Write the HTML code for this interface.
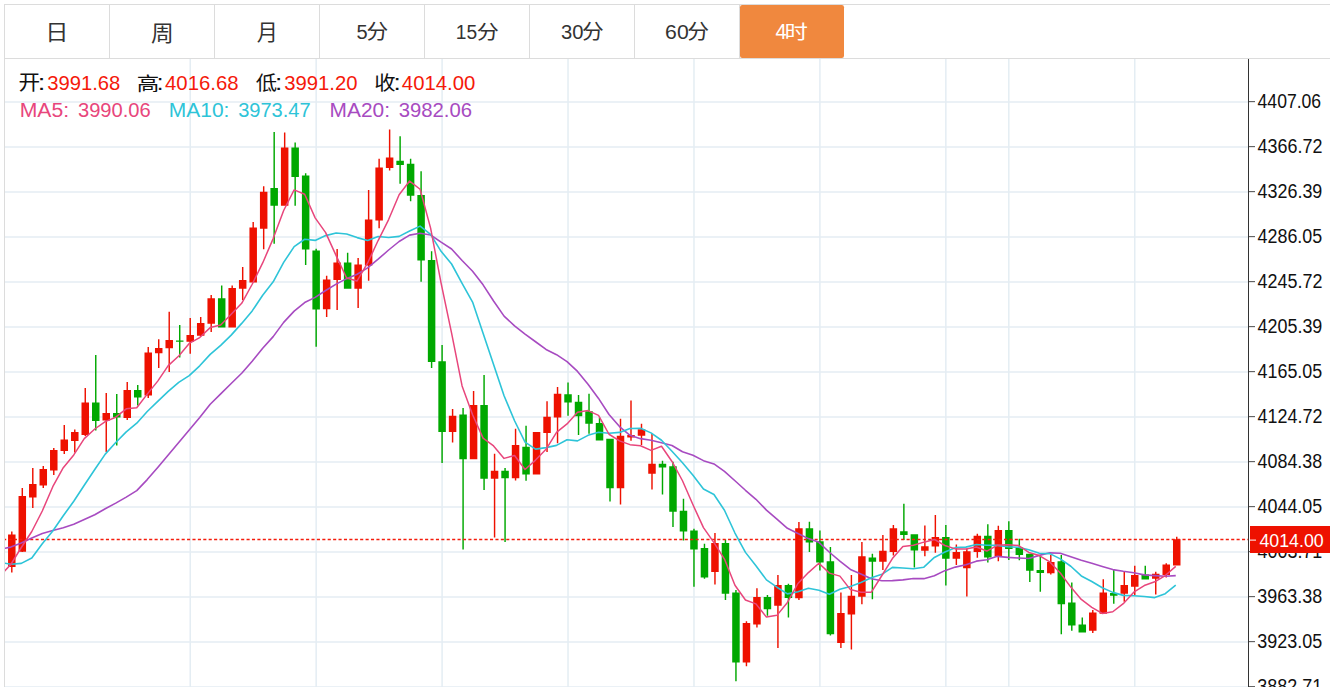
<!DOCTYPE html>
<html><head><meta charset="utf-8"><title>K</title>
<style>html,body{margin:0;padding:0;background:#fff;overflow:hidden}svg{display:block}text{font-family:"Liberation Sans","Noto Sans CJK SC",sans-serif;white-space:pre}</style></head>
<body>
<svg width="1330" height="687" viewBox="0 0 1330 687">
<rect width="1330" height="687" fill="#fff"/>
<g stroke="#e4edf3" stroke-width="1.5" fill="none">
<path d="M190.22 59V687"/>
<path d="M316.15 59V687"/>
<path d="M442.09 59V687"/>
<path d="M568.03 59V687"/>
<path d="M693.97 59V687"/>
<path d="M819.91 59V687"/>
<path d="M945.85 59V687"/>
<path d="M1008.82 59V687"/>
<path d="M1134.76 59V687"/>
<path d="M5 101.95H1248"/>
<path d="M5 146.95H1248"/>
<path d="M5 191.95H1248"/>
<path d="M5 236.95H1248"/>
<path d="M5 281.95H1248"/>
<path d="M5 326.95H1248"/>
<path d="M5 371.95H1248"/>
<path d="M5 416.95H1248"/>
<path d="M5 461.95H1248"/>
<path d="M5 506.95H1248"/>
<path d="M5 551.95H1248"/>
<path d="M5 596.95H1248"/>
<path d="M5 641.95H1248"/>
<path d="M5 686.95H1248"/>
</g>
<g clip-path="url(#cp)">
<path fill="#ee1100" d="M8.05 534.5V567H15.55V534.5ZM11.08 531.5V572.5H12.52V531.5ZM18.55 496V551.75H26.05V496ZM21.58 488V552H23.02V488ZM29.04 484V497.5H36.54V484ZM32.07 468V508H33.51V468ZM39.53 469V485.5H47.03V469ZM42.56 466V488H44V466ZM50.03 450V470.5H57.53V450ZM53.06 448V475H54.5V448ZM60.52 439.5V451H68.02V439.5ZM63.55 425V454H64.99V425ZM71.02 432V441H78.52V432ZM74.05 429.5V452.5H75.49V429.5ZM81.51 402.5V435H89.01V402.5ZM84.54 388V436H85.98V388ZM102.5 413V420.5H110V413ZM105.53 393V452H106.97V393ZM123.49 390V418H131V390ZM126.52 382V420H127.96V382ZM144.49 352.5V395.5H151.99V352.5ZM147.52 347V398H148.96V347ZM154.98 348V353.25H162.48V348ZM158.01 339.25V368H159.45V339.25ZM165.47 340V348.25H172.97V340ZM168.5 311.75V372H169.94V311.75ZM186.47 335V341.75H193.97V335ZM189.5 318V353.75H190.94V318ZM196.96 323V335.75H204.46V323ZM199.99 317V336.25H201.43V317ZM207.45 298.25V323.75H214.95V298.25ZM210.48 295V332H211.92V295ZM228.44 288V327.5H235.94V288ZM231.47 285.5V327.5H232.91V285.5ZM238.94 280V288.75H246.44V280ZM241.97 267V300H243.41V267ZM249.44 227.5V282.5H256.94V227.5ZM252.47 222V282.5H253.91V222ZM259.93 191.75V228.75H267.43V191.75ZM262.96 186.25V249.25H264.4V186.25ZM280.92 147.5V205.75H288.42V147.5ZM283.95 132.5V205.75H285.39V132.5ZM322.9 279.5V309.25H330.4V279.5ZM325.93 275.75V317H327.37V275.75ZM333.39 262.5V280H340.89V262.5ZM336.42 249V310H337.87V249ZM354.38 264.5V288.75H361.88V264.5ZM357.41 258V308H358.86V258ZM364.88 219.5V265.5H372.38V219.5ZM367.91 190V280.75H369.35V190ZM375.38 167.5V220.5H382.88V167.5ZM378.4 158.75V228.25H379.85V158.75ZM385.87 157.5V168H393.37V157.5ZM388.9 129.5V170.5H390.34V129.5ZM448.84 415.75V432H456.34V415.75ZM451.87 409V442.5H453.31V409ZM469.83 405V459.25H477.33V405ZM472.86 391V459.25H474.3V391ZM490.82 470.75V478.75H498.32V470.75ZM493.85 453.75V537.5H495.29V453.75ZM511.81 445V478.25H519.31V445ZM514.84 428.75V480.5H516.28V428.75ZM532.8 432V474.5H540.3V432ZM535.83 432V474.5H537.27V432ZM543.29 416.75V433H550.79V416.75ZM546.32 401.25V452H547.76V401.25ZM553.79 393.75V417.5H561.29V393.75ZM556.82 387V443.25H558.26V387ZM616.76 435.75V488.25H624.26V435.75ZM619.79 418.75V504.5H621.23V418.75ZM627.25 435V437.5H634.75V435ZM630.28 400.5V440.75H631.72V400.5ZM637.75 429.25V435.75H645.25V429.25ZM640.78 423.75V445H642.22V423.75ZM648.24 463.75V473.75H655.74V463.75ZM651.27 433.75V489.5H652.71V433.75ZM711.21 543V572H718.71V543ZM714.24 533V584.5H715.68V533ZM742.7 623V662.5H750.2V623ZM745.73 621.25V666.25H747.17V621.25ZM753.19 597V624.5H760.69V597ZM756.22 588.25V627.5H757.66V588.25ZM774.18 585V605.75H781.68V585ZM777.21 575V648H778.65V575ZM795.17 528.25V598.25H802.67V528.25ZM798.2 522V600H799.64V522ZM837.15 613V643H844.65V613ZM840.18 592.5V648H841.62V592.5ZM847.65 595.75V614.5H855.15V595.75ZM850.68 575V649.5H852.12V575ZM858.14 556.25V596.75H865.64V556.25ZM861.17 542V604.25H862.61V542ZM879.13 550.75V561.75H886.63V550.75ZM882.16 535V570H883.6V535ZM889.63 528.25V552H897.13V528.25ZM892.66 525V555.5H894.1V525ZM921.11 546.25V550.75H928.61V546.25ZM924.14 525.5V556.25H925.58V525.5ZM931.61 537V546.5H939.11V537ZM934.64 515V552.75H936.08V515ZM952.6 552V558.75H960.1V552ZM955.63 544.5V565H957.07V544.5ZM963.09 551.25V568.25H970.59V551.25ZM966.12 548.75V596.5H967.56V548.75ZM973.59 535.75V552H981.09V535.75ZM976.62 533.75V557.75H978.06V533.75ZM994.58 530V556.5H1002.08V530ZM997.61 525.75V561.25H999.05V525.75ZM1047.05 562V573.25H1054.55V562ZM1050.08 555V574.5H1051.52V555ZM1089.03 612.5V630.75H1096.53V612.5ZM1092.06 610V633H1093.5V610ZM1099.53 592.5V613.75H1107.03V592.5ZM1102.56 579.25V613.75H1104V579.25ZM1120.52 585V593.75H1128.02V585ZM1123.55 571.25V601.75H1124.99V571.25ZM1131.01 575V586.75H1138.51V575ZM1134.04 565.75V595H1135.48V565.75ZM1152 573.75V578.75H1159.5V573.75ZM1155.03 571.75V594.5H1156.47V571.75ZM1162.5 564.5V575H1170V564.5ZM1165.53 563.25V577.5H1166.97V563.25ZM1172.99 539.25V565.5H1180.49V539.25ZM1176.02 536.75V565.5H1177.46V536.75Z"/>
<path fill="#00a800" d="M92.01 402.5V421H99.51V402.5ZM95.04 355V430.5H96.48V355ZM113 413V417.5H120.5V413ZM116.03 394V445.5H117.47V394ZM133.99 390V397.5H141.49V390ZM137.02 385V405.5H138.46V385ZM175.97 340.5V341.75H183.47V340.5ZM179 325V357.5H180.44V325ZM217.95 298.25V327.5H225.45V298.25ZM220.98 285.5V327.5H222.42V285.5ZM270.43 188V205.75H277.93V188ZM273.45 132V243.75H274.9V132ZM291.41 147.5V177H298.91V147.5ZM294.44 142.5V205.75H295.88V142.5ZM301.91 175.5V249.5H309.41V175.5ZM304.94 173.25V265H306.38V173.25ZM312.4 250.5V309.5H319.9V250.5ZM315.43 248.75V346.75H316.88V248.75ZM343.89 262.5V288.75H351.39V262.5ZM346.92 252.75V288.75H348.36V252.75ZM396.37 160.75V165H403.87V160.75ZM399.39 136.25V183.75H400.84V136.25ZM406.86 163.75V195.75H414.36V163.75ZM409.89 158.75V201.25H411.33V158.75ZM417.35 195V260.5H424.85V195ZM420.38 171.25V281.75H421.82V171.25ZM427.85 260V362H435.35V260ZM430.88 251.25V368H432.32V251.25ZM438.34 361.25V432H445.84V361.25ZM441.37 345V463H442.81V345ZM459.33 414.5V459.25H466.83V414.5ZM462.36 408V549.5H463.81V408ZM480.32 405V478.75H487.82V405ZM483.35 375V490H484.8V375ZM501.31 470.75V478.25H508.81V470.75ZM504.34 468V542H505.79V468ZM522.3 446.75V474.5H529.8V446.75ZM525.33 425.75V480.75H526.77V425.75ZM564.28 394.25V402.5H571.78V394.25ZM567.31 382.5V415.75H568.75V382.5ZM574.78 401.75V416.25H582.28V401.75ZM577.81 395V435H579.25V395ZM585.27 411.25V423.75H592.77V411.25ZM588.3 393.75V433.75H589.74V393.75ZM595.77 423V440.5H603.27V423ZM598.8 417.5V440.5H600.24V417.5ZM606.26 438.75V488.25H613.76V438.75ZM609.29 438.75V501.5H610.73V438.75ZM658.74 463.75V467.5H666.24V463.75ZM661.77 460.75V494.5H663.21V460.75ZM669.23 466.25V511.75H676.73V466.25ZM672.26 461.75V527H673.7V461.75ZM679.73 510.75V531.5H687.23V510.75ZM682.76 498.75V540.5H684.2V498.75ZM690.22 530.5V549.6H697.72V530.5ZM693.25 528.75V586.75H694.69V528.75ZM700.72 548V577.5H708.22V548ZM703.75 543.75V578.75H705.19V543.75ZM721.71 543V593.75H729.21V543ZM724.74 539.5V600H726.18V539.5ZM732.2 592.5V662.5H739.7V592.5ZM735.23 590V681.25H736.67V590ZM763.69 597V609.25H771.19V597ZM766.72 595V615.75H768.16V595ZM784.68 585V598H792.18V585ZM787.71 583.75V617.5H789.15V583.75ZM805.67 528.25V542.5H813.17V528.25ZM808.7 521.75V552H810.14V521.75ZM816.16 541.25V562.5H823.66V541.25ZM819.19 530.5V570.5H820.63V530.5ZM826.66 561.25V634.25H834.16V561.25ZM829.69 547V635.5H831.13V547ZM868.64 557.5V561.75H876.14V557.5ZM871.67 553.75V599.25H873.11V553.75ZM900.12 531.25V535H907.62V531.25ZM903.15 503.75V540H904.59V503.75ZM910.62 534.25V550.5H918.12V534.25ZM913.65 534.25V567.5H915.09V534.25ZM942.1 537V558.75H949.6V537ZM945.13 525V585.5H946.57V525ZM984.08 535.75V557.5H991.58V535.75ZM987.11 524.25V562.5H988.55V524.25ZM1005.07 530V549H1012.57V530ZM1008.1 521.25V560H1009.54V521.25ZM1015.57 547.5V555H1023.07V547.5ZM1018.6 538.75V560.25H1020.04V538.75ZM1026.06 553.75V570.75H1033.56V553.75ZM1029.09 553.75V582H1030.53V553.75ZM1036.56 570V573H1044.06V570ZM1039.59 555V591.75H1041.03V555ZM1057.55 561.25V604.25H1065.05V561.25ZM1060.58 555V634.25H1062.02V555ZM1068.04 602.5V625.5H1075.54V602.5ZM1071.07 582.5V630.75H1072.51V582.5ZM1078.54 624.5V632.5H1086.04V624.5ZM1081.57 617.5V632.5H1083.01V617.5ZM1110.02 593V595.75H1117.52V593ZM1113.05 569.25V603.75H1114.49V569.25ZM1141.51 574.5V579.5H1149.01V574.5ZM1144.54 565.75V579.5H1145.98V565.75Z"/>
<path d="M3.1 539.55H1248" stroke="#f41c0c" stroke-width="1.5" stroke-dasharray="3.1 2.31" fill="none"/>
<polyline fill="none" stroke="#a74bc1" stroke-width="1.6" stroke-linejoin="round" points="0.31,549.2 10.8,547.1 21.3,543 31.79,538 42.28,533.6 52.78,530.4 63.27,527.7 73.77,524.3 84.26,519.6 94.76,514.7 105.25,508.7 115.75,503.1 126.24,497.1 136.74,490.6 147.24,479.6 157.73,467.45 168.22,454.95 178.72,442.45 189.22,429.95 199.71,417.45 210.2,404.25 220.7,393.9 231.19,383.5 241.69,373.3 252.19,361.23 262.68,348.31 273.18,336.62 283.67,322.4 294.16,311.12 304.66,302.55 315.15,297.38 325.65,290.48 336.14,284.1 346.64,278.66 357.13,274.26 367.63,267.84 378.12,259.21 388.62,250 399.12,241.5 409.61,235.14 420.1,233.25 430.6,234.97 441.09,242.18 451.59,248.96 462.08,260.55 472.58,271.21 483.07,284.86 493.57,301.02 504.06,316.09 514.56,325.86 525.05,334.11 535.55,341.74 546.04,349.45 556.54,354.7 567.03,361.6 577.53,371.44 588.02,384.25 598.52,398.4 609.01,414.56 619.51,426.56 630,435.29 640.5,438.65 650.99,440.24 661.49,442.82 671.98,445.45 682.48,451.77 692.97,455.32 703.47,460.66 713.96,463.89 724.46,471.33 734.95,480.73 745.45,490.28 755.94,499.29 766.44,510.07 776.93,519.19 787.43,528.28 797.92,533.5 808.42,538.61 818.91,542.32 829.41,552.24 839.9,561.14 850.4,569.47 860.89,574.09 871.39,578.81 881.88,580.75 892.38,580.59 902.87,579.86 913.37,578.51 923.86,578.67 934.36,575.84 944.85,570.65 955.35,567.1 965.84,564.81 976.34,561.14 986.83,559.76 997.33,556.36 1007.82,557.4 1018.32,558.02 1028.81,558.44 1039.31,555.38 1049.8,552.83 1060.3,553.25 1070.79,556.71 1081.29,560.25 1091.78,563.34 1102.28,566.55 1112.77,569.59 1123.27,571.31 1133.76,572.75 1144.26,574.88 1154.75,575.62 1165.25,576.25 1175.74,575.65"/>
<polyline fill="none" stroke="#2ec4d8" stroke-width="1.6" stroke-linejoin="round" points="0.31,562.3 10.8,564.3 21.3,563.4 31.79,558 42.28,543.7 52.78,531 63.27,515.8 73.77,501.2 84.26,485.25 94.76,469.5 105.25,454.15 115.75,442.45 126.24,431.85 136.74,423.2 147.24,411.55 157.73,401.35 168.22,391.4 178.72,382.38 189.22,375.62 199.71,365.82 210.2,354.35 220.7,345.35 231.19,335.15 241.69,323.4 252.19,310.9 262.68,295.27 273.18,281.85 283.67,262.43 294.16,246.62 304.66,239.28 315.15,240.4 325.65,235.6 336.14,233.05 346.64,233.93 357.13,237.62 367.63,240.4 378.12,236.57 388.62,237.57 399.12,236.38 409.61,231 420.1,226.1 430.6,234.35 441.09,251.3 451.59,264 462.08,283.48 472.58,302.02 483.07,333.15 493.57,364.48 504.06,395.8 514.56,420.73 525.05,442.12 535.55,449.12 546.04,447.6 556.54,445.4 567.03,439.73 577.53,440.85 588.02,435.35 598.52,432.32 609.01,433.32 619.51,432.4 630,428.45 640.5,428.18 650.99,432.88 661.49,440.25 671.98,451.18 682.48,462.7 692.97,475.29 703.47,488.99 713.96,494.46 724.46,510.26 734.95,533.01 745.45,552.38 755.94,565.71 766.44,579.88 776.93,587.21 787.43,593.86 797.92,591.73 808.42,588.23 818.91,590.17 829.41,594.23 839.9,589.27 850.4,586.55 860.89,582.48 871.39,577.73 881.88,574.3 892.38,567.33 902.87,568 913.37,568.8 923.86,567.17 934.36,557.45 944.85,552.02 955.35,547.65 965.84,547.15 976.34,544.55 986.83,545.23 997.33,545.4 1007.82,546.8 1018.32,547.25 1028.81,549.7 1039.31,553.3 1049.8,553.62 1060.3,558.85 1070.79,566.27 1081.29,575.95 1091.78,581.45 1102.28,587.7 1112.77,592.38 1123.27,595.38 1133.76,595.8 1144.26,596.45 1154.75,597.62 1165.25,593.65 1175.74,585.02"/>
<polyline fill="none" stroke="#e8467c" stroke-width="1.5" stroke-linejoin="round" points="0.31,575.7 10.8,564.5 21.3,547.5 31.79,531.5 42.28,511 52.78,486.7 63.27,467.7 73.77,454.9 84.26,438.6 94.76,429 105.25,421.6 115.75,417.2 126.24,408.8 136.74,407.8 147.24,394.1 157.73,381.1 168.22,365.6 178.72,355.95 189.22,343.45 199.71,337.55 210.2,327.6 220.7,325.1 231.19,314.35 241.69,303.35 252.19,284.25 262.68,262.95 273.18,238.6 283.67,210.5 294.16,189.9 304.66,194.3 315.15,217.85 325.65,232.6 336.14,255.6 346.64,277.95 357.13,280.95 367.63,262.95 378.12,240.55 388.62,219.55 399.12,194.8 409.61,181.05 420.1,189.25 430.6,228.15 441.09,283.05 451.59,333.2 462.08,385.9 472.58,414.8 483.07,438.15 493.57,445.9 504.06,458.4 514.56,455.55 525.05,469.45 535.55,460.1 546.04,449.3 556.54,432.4 567.03,423.9 577.53,412.25 588.02,410.6 598.52,415.35 609.01,434.25 619.51,440.9 630,444.65 640.5,445.75 650.99,450.4 661.49,446.25 671.98,461.45 682.48,480.75 692.97,504.82 703.47,527.57 713.96,542.67 724.46,559.07 734.95,585.27 745.45,599.95 755.94,603.85 766.44,617.1 776.93,615.35 787.43,602.45 797.92,583.5 808.42,572.6 818.91,563.25 829.41,573.1 839.9,576.1 850.4,589.6 860.89,592.35 871.39,592.2 881.88,575.5 892.38,558.55 902.87,546.4 913.37,545.25 923.86,542.15 934.36,539.4 944.85,545.5 955.35,548.9 965.84,549.05 976.34,546.95 986.83,551.05 997.33,545.3 1007.82,544.7 1018.32,545.45 1028.81,552.45 1039.31,555.55 1049.8,561.95 1060.3,573 1070.79,587.1 1081.29,599.45 1091.78,607.35 1102.28,613.45 1112.77,611.75 1123.27,603.65 1133.76,592.15 1144.26,585.55 1154.75,581.8 1165.25,575.55 1175.74,566.4"/>
</g>
<defs><clipPath id="cp"><rect x="5" y="59" width="1243" height="628"/></clipPath></defs>
<g fill="#dcdcdc">
<rect x="4" y="4" width="1326" height="1"/>
<rect x="4" y="58" width="1326" height="1"/>
<rect x="4" y="4" width="1" height="683"/>
<rect x="109" y="5" width="1" height="53"/>
<rect x="214" y="5" width="1" height="53"/>
<rect x="319" y="5" width="1" height="53"/>
<rect x="424" y="5" width="1" height="53"/>
<rect x="529" y="5" width="1" height="53"/>
<rect x="634" y="5" width="1" height="53"/>
<rect x="739" y="5" width="1" height="53"/>
</g>
<rect x="740" y="5" width="104" height="53" rx="2.2" ry="2.2" fill="#f0883e"/>
<text transform="matrix(0.2317 0 0 0.2105 45.222 40.048)" font-size="100" fill="#333333">日</text>
<text transform="matrix(0.2279 0 0 0.2198 151.048 40.610)" font-size="100" fill="#333333">周</text>
<text transform="matrix(0.2121 0 0 0.2108 256.785 40.192)" font-size="100" fill="#333333">月</text>
<text transform="matrix(0.20037 0 0 0.21068 356.498 38.894)" font-size="100" fill="#333333">5</text>
<text transform="matrix(0.2170 0 0 0.1989 366.445 39.249)" font-size="100" fill="#333333">分</text>
<text transform="matrix(0.19213 0 0 0.21068 455.837 38.894)" font-size="100" fill="#333333">15</text>
<text transform="matrix(0.2214 0 0 0.1989 476.626 39.249)" font-size="100" fill="#333333">分</text>
<text transform="matrix(0.20190 0 0 0.20762 560.931 38.897)" font-size="100" fill="#333333">30</text>
<text transform="matrix(0.2170 0 0 0.1989 582.045 39.249)" font-size="100" fill="#333333">分</text>
<text transform="matrix(0.21223 0 0 0.20762 665.122 38.897)" font-size="100" fill="#333333">60</text>
<text transform="matrix(0.2181 0 0 0.1989 687.340 39.249)" font-size="100" fill="#333333">分</text>
<text transform="matrix(0.20043 0 0 0.21367 775.540 39.100)" font-size="100" fill="#fff">4</text>
<text transform="matrix(0.2338 0 0 0.1989 784.606 38.808)" font-size="100" fill="#fff">时</text>
<text transform="matrix(0.2163 0 0 0.2002 18.575 90.318)" font-size="100" fill="#111">开</text>
<text transform="matrix(0.27307 0 0 0.21767 37.707 90.200)" font-size="100" fill="#111">:</text>
<text transform="matrix(0.20237 0 0 0.20480 47.229 89.500)" font-size="100" fill="#f5190a">3991.68</text>
<text transform="matrix(0.2255 0 0 0.1952 136.769 90.558)" font-size="100" fill="#111">高</text>
<text transform="matrix(0.24156 0 0 0.21956 156.794 90.200)" font-size="100" fill="#111">:</text>
<text transform="matrix(0.20348 0 0 0.20480 165.033 89.500)" font-size="100" fill="#f5190a">4016.68</text>
<text transform="matrix(0.2138 0 0 0.1887 255.830 89.815)" font-size="100" fill="#111">低</text>
<text transform="matrix(0.26256 0 0 0.21956 275.103 90.200)" font-size="100" fill="#111">:</text>
<text transform="matrix(0.20296 0 0 0.20480 284.127 89.500)" font-size="100" fill="#f5190a">3991.20</text>
<text transform="matrix(0.2137 0 0 0.1965 374.196 89.808)" font-size="100" fill="#111">收</text>
<text transform="matrix(0.26256 0 0 0.21956 393.403 90.200)" font-size="100" fill="#111">:</text>
<text transform="matrix(0.20351 0 0 0.20480 401.833 89.500)" font-size="100" fill="#f5190a">4014.00</text>
<text transform="matrix(0.21151 0 0 0.21068 19.765 116.994)" font-size="100" fill="#e8467c">MA5:</text>
<text transform="matrix(0.20154 0 0 0.20762 77.932 116.997)" font-size="100" fill="#e8467c">3990.06</text>
<text transform="matrix(0.20981 0 0 0.20762 168.779 116.997)" font-size="100" fill="#2ec4d8">MA10:</text>
<text transform="matrix(0.20077 0 0 0.20762 238.135 116.997)" font-size="100" fill="#2ec4d8">3973.47</text>
<text transform="matrix(0.20907 0 0 0.20762 329.585 116.997)" font-size="100" fill="#a74bc1">MA20:</text>
<text transform="matrix(0.20296 0 0 0.20762 398.627 116.997)" font-size="100" fill="#a74bc1">3982.06</text>
<rect x="1248" y="59" width="1" height="628" fill="#333333"/>
<rect x="1249" y="101.15" width="6" height="1" fill="#4a4a4a"/>
<text transform="matrix(0.17588 0 0 0.19986 1257.596 107.805)" font-size="100" fill="#111">4407.06</text>
<rect x="1249" y="146.15" width="6" height="1" fill="#4a4a4a"/>
<text transform="matrix(0.17930 0 0 0.19986 1257.589 152.805)" font-size="100" fill="#111">4366.72</text>
<rect x="1249" y="191.15" width="6" height="1" fill="#4a4a4a"/>
<text transform="matrix(0.17915 0 0 0.19986 1257.589 197.805)" font-size="100" fill="#111">4326.39</text>
<rect x="1249" y="236.15" width="6" height="1" fill="#4a4a4a"/>
<text transform="matrix(0.17888 0 0 0.19986 1257.589 242.805)" font-size="100" fill="#111">4286.05</text>
<rect x="1249" y="281.15" width="6" height="1" fill="#4a4a4a"/>
<text transform="matrix(0.17930 0 0 0.19986 1257.589 287.805)" font-size="100" fill="#111">4245.72</text>
<rect x="1249" y="326.15" width="6" height="1" fill="#4a4a4a"/>
<text transform="matrix(0.17915 0 0 0.19986 1257.589 332.805)" font-size="100" fill="#111">4205.39</text>
<rect x="1249" y="371.15" width="6" height="1" fill="#4a4a4a"/>
<text transform="matrix(0.17888 0 0 0.19986 1257.589 377.805)" font-size="100" fill="#111">4165.05</text>
<rect x="1249" y="416.15" width="6" height="1" fill="#4a4a4a"/>
<text transform="matrix(0.17930 0 0 0.20265 1257.589 423.000)" font-size="100" fill="#111">4124.72</text>
<rect x="1249" y="461.15" width="6" height="1" fill="#4a4a4a"/>
<text transform="matrix(0.17896 0 0 0.19986 1257.589 467.805)" font-size="100" fill="#111">4084.38</text>
<rect x="1249" y="506.15" width="6" height="1" fill="#4a4a4a"/>
<text transform="matrix(0.17888 0 0 0.19986 1257.589 512.805)" font-size="100" fill="#111">4044.05</text>
<rect x="1249" y="551.15" width="6" height="1" fill="#4a4a4a"/>
<text transform="matrix(0.17923 0 0 0.19986 1257.589 557.805)" font-size="100" fill="#111">4003.71</text>
<rect x="1249" y="596.15" width="6" height="1" fill="#4a4a4a"/>
<text transform="matrix(0.17972 0 0 0.19986 1257.316 602.805)" font-size="100" fill="#111">3963.38</text>
<rect x="1249" y="641.15" width="6" height="1" fill="#4a4a4a"/>
<text transform="matrix(0.17965 0 0 0.19986 1257.316 647.805)" font-size="100" fill="#111">3923.05</text>
<rect x="1249" y="686.15" width="6" height="1" fill="#4a4a4a"/>
<text transform="matrix(0.18000 0 0 0.19986 1257.314 692.805)" font-size="100" fill="#111">3882.71</text>
<rect x="1250" y="526" width="80" height="27" fill="#ee1100"/>
<rect x="1250" y="539.6" width="6" height="1" fill="#fff"/>
<text transform="matrix(0.17789 0 0 0.19209 1259.392 546.612)" font-size="100" fill="#fff">4014.00</text>
</svg></body></html>
